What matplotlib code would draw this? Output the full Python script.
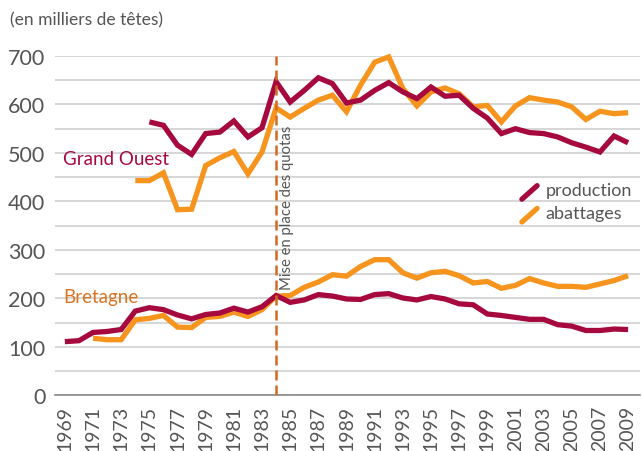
import matplotlib
matplotlib.use('Agg')
import matplotlib.pyplot as plt
from matplotlib.lines import Line2D

plt.rcParams['font.family'] = ['Lato', 'DejaVu Sans']

# Grand Ouest (milliers de têtes)
go_years_prod = list(range(1975, 2010))
go_prod = [564, 557, 516, 497, 540, 543, 566, 533, 552, 647,
           605, 629, 655, 643, 603, 609, 629, 645, 626, 612,
           636, 617, 619, 592, 572, 540, 550, 542, 540, 533,
           521, 512, 502, 535, 521]
go_years_abat = list(range(1974, 2010))
go_abat = [443, 443, 459, 383, 384, 474, 490, 503, 457, 502,
           593, 574, 592, 609, 619, 585, 640, 687, 698, 633,
           597, 626, 634, 622, 595, 598, 564, 597, 614, 609,
           605, 595, 569, 586, 581, 583]

# Bretagne
br_years_prod = list(range(1969, 2010))
br_prod = [111, 113, 130, 132, 136, 174, 181, 177, 166, 158,
           167, 170, 180, 172, 183, 206, 192, 197, 208, 205,
           199, 198, 208, 210, 201, 197, 204, 199, 189, 187,
           168, 165, 161, 157, 157, 146, 143, 134, 134, 137, 136]
br_years_abat = list(range(1971, 2010))
br_abat = [118, 115, 115, 156, 159, 165, 141, 140, 161, 163,
           172, 163, 177, 205, 206, 223, 234, 249, 246, 266,
           280, 280, 253, 242, 253, 256, 247, 232, 235, 221,
           227, 241, 232, 225, 225, 223, 230, 237, 247]

quota_year = 1984
xtick_years = list(range(1969, 2010, 2))

red = '#a6093d'
orange = '#f7941d'
grey = '#555555'

fig = plt.figure(figsize=(6.42, 4.52), dpi=100)
ax = fig.add_axes([0.0857, 0.1228, 0.9113, 0.7512])

for yrs, vals, col in [(go_years_abat, go_abat, orange), (br_years_abat, br_abat, orange),
                       (go_years_prod, go_prod, red), (br_years_prod, br_prod, red)]:
    ax.plot(yrs, vals, color=col, lw=3.8, solid_joinstyle='miter', solid_capstyle='butt',
            clip_on=False, zorder=3)

ax.axvline(quota_year, color='#d2691e', lw=1.8, dashes=(4, 2), zorder=4)
ax.text(quota_year + 0.25, 219, 'Mise en place des quotas', rotation=90, ha='left', va='bottom',
        fontsize=10.7, color=grey, family=['Liberation Sans Narrow', 'Lato'], zorder=2)

ax.text(1968.9, 488, 'Grand Ouest', color=red, fontsize=13.5, va='center', ha='left')
ax.text(1968.9, 205, 'Bretagne', color='#d9731f', fontsize=13.5, va='center', ha='left')

# legend with slanted strokes
for (yc, col, lab) in [(0.598, red, 'production'), (0.531, orange, 'abattages')]:
    ax.add_line(Line2D([0.798, 0.824], [yc - 0.02, yc + 0.02], transform=ax.transAxes,
                       color=col, lw=3.8, solid_capstyle='round', clip_on=False))
    ax.text(0.838, yc + 0.006, lab, transform=ax.transAxes, fontsize=13, color=grey,
            va='center', ha='left')

ax.set_xlim(1968.3, 2009.85)
ax.set_ylim(0, 700)
ax.set_yticks(range(0, 701, 100))
ax.set_yticks(range(50, 700, 100), minor=True)
ax.set_xticks(xtick_years)
ax.set_xticklabels([str(y) for y in xtick_years], rotation=90, fontsize=14, color=grey)
ax.tick_params(axis='y', labelsize=15.5, colors=grey, length=0, pad=7, which='both')
ax.tick_params(axis='x', length=0, pad=7)
ax.grid(axis='y', which='both', color='#cfcfcf', lw=1.2)
ax.set_axisbelow(True)
for s in ['top', 'right', 'left']:
    ax.spines[s].set_visible(False)
ax.spines['bottom'].set_color('#888888')
ax.spines['bottom'].set_linewidth(1.2)

fig.text(0.016, 0.955, '(en milliers de têtes)', fontsize=12.5, color=grey, va='center',
         ha='left')

fig.savefig('out.png', dpi=100, facecolor='white')
